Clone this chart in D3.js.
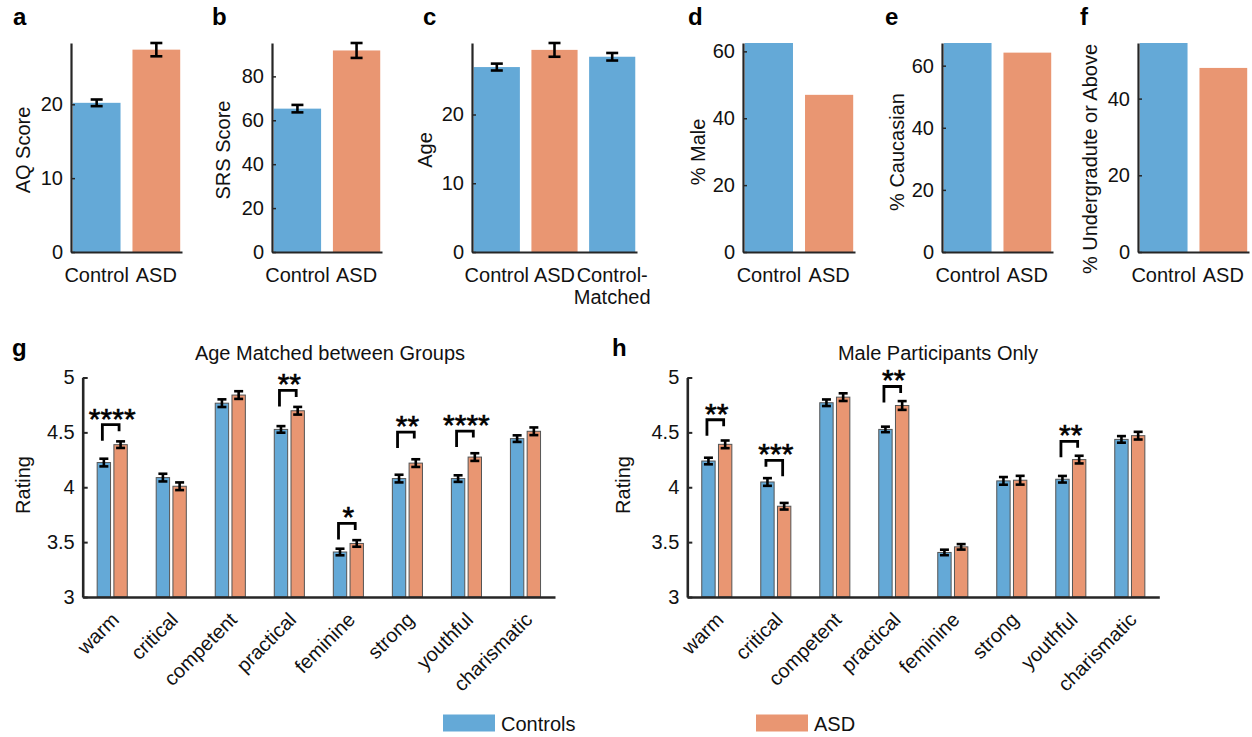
<!DOCTYPE html>
<html>
<head>
<meta charset="utf-8">
<script src="https://cdn.jsdelivr.net/npm/d3@7"></script>
<style>
  body { margin: 0; background: #fff; }
  svg { display: block; font-family: "Liberation Sans", Arial, Helvetica, sans-serif; }
</style>
</head>
<body>
<svg id="fig" width="1252" height="737"></svg>
<script>
// ---- participant summaries (panels a–f) ----
const groupCats = ["Control", "ASD"];
const ageCats = ["Control", "ASD", "Control-Matched"];
const aqMean = [20.2, 27.4];
const aqErr = [0.45, 0.9];
const srsMean = [65.3, 91.8];
const srsErr = [1.7, 3.4];
const ageMean = [26.9, 29.4, 28.4];
const ageErr = [0.5, 1.0, 0.55];
const malePct = [62.5, 47.0];
const caucasianPct = [67.3, 64.2];
const undergradPct = [54.5, 48.0];
const aqTicks = [0, 10, 20];
const srsTicks = [0, 20, 40, 60, 80];
const ageTicks = [0, 10, 20];
const maleTicks = [0, 20, 40, 60];
const caucasianTicks = [0, 20, 40, 60];
const undergradTicks = [0, 20, 40];

// ---- trait ratings (panels g, h) ----
const traits = ["warm", "critical", "competent", "practical", "feminine", "strong", "youthful", "charismatic"];
const ratingTicks = [3, 3.5, 4, 4.5, 5];
const seriesNames = ["Controls", "ASD"];

const ageMatchedControl    = [4.225, 4.088, 4.766, 4.527, 3.410, 4.079, 4.079, 4.443];
const ageMatchedControlErr = [0.035, 0.035, 0.035, 0.030, 0.030, 0.035, 0.030, 0.030];
const ageMatchedASD        = [4.388, 4.009, 4.840, 4.697, 3.488, 4.220, 4.275, 4.510];
const ageMatchedASDErr     = [0.030, 0.035, 0.035, 0.035, 0.030, 0.035, 0.035, 0.035];
const ageMatchedSigTraits  = ["warm", "practical", "feminine", "strong", "youthful"];
const ageMatchedSigStars   = ["****", "**", "*", "**", "****"];
const ageMatchedSigLevel   = [4.57, 4.882, 3.67, 4.503, 4.512];

const maleControl    = [4.239, 4.048, 4.770, 4.527, 3.406, 4.058, 4.073, 4.436];
const maleControlErr = [0.030, 0.035, 0.030, 0.025, 0.025, 0.035, 0.030, 0.030];
const maleASD        = [4.391, 3.827, 4.821, 4.745, 3.457, 4.064, 4.252, 4.470];
const maleASDErr     = [0.035, 0.030, 0.035, 0.040, 0.025, 0.040, 0.035, 0.035];
const maleSigTraits  = ["warm", "critical", "practical", "youthful"];
const maleSigStars   = ["**", "***", "**", "**"];
const maleSigLevel   = [4.615, 4.245, 4.918, 4.418];

// ---- styling ----
const BLUE = "#64a9d7";
const ORANGE = "#e99672";
const AXIS = "#262626";
const FONT = 20;

const svg = d3.select("#fig");

function panelLetter(txt, x, y) {
  svg.append("text").attr("x", x).attr("y", y)
    .attr("font-size", 24).attr("font-weight", "bold").attr("fill", "#000")
    .text(txt);
}

// ---- top row: simple group bars ----
const TOP_Y = [252, 43];

function summaryPanel(p) {
  const g = svg.append("g");
  const top = d3.max(p.values, (v, i) => v + (p.errs ? p.errs[i] : 0));
  const y = d3.scaleLinear().domain([0, top]).range(TOP_Y);
  const x = d3.scaleBand().domain(p.cats).range([p.x0, p.x1])
    .paddingInner(0.2).paddingOuter(0.03);
  const colors = p.cats.map(c => c === "ASD" ? ORANGE : BLUE);

  g.selectAll("rect.bar").data(p.values).join("rect")
    .attr("class", "bar")
    .attr("x", (d, i) => x(p.cats[i]))
    .attr("width", x.bandwidth())
    .attr("y", d => y(d))
    .attr("height", d => y(0) - y(d))
    .attr("fill", (d, i) => colors[i]);

  if (p.errs) {
    const eb = g.selectAll("g.err").data(p.values).join("g").attr("class", "err")
      .attr("stroke", "#000").attr("stroke-width", 2.6);
    const cx = i => x(p.cats[i]) + x.bandwidth() / 2;
    const cap = 6;
    eb.append("line").attr("x1", (d, i) => cx(i)).attr("x2", (d, i) => cx(i))
      .attr("y1", (d, i) => y(d - p.errs[i])).attr("y2", (d, i) => y(d + p.errs[i]));
    eb.append("line").attr("x1", (d, i) => cx(i) - cap).attr("x2", (d, i) => cx(i) + cap)
      .attr("y1", (d, i) => y(d - p.errs[i])).attr("y2", (d, i) => y(d - p.errs[i]));
    eb.append("line").attr("x1", (d, i) => cx(i) - cap).attr("x2", (d, i) => cx(i) + cap)
      .attr("y1", (d, i) => y(d + p.errs[i])).attr("y2", (d, i) => y(d + p.errs[i]));
  }

  // axes
  const yAxis = g.append("g").attr("transform", `translate(${p.x0},0)`)
    .call(d3.axisLeft(y).tickValues(p.ticks).tickSizeInner(-4).tickSizeOuter(0).tickPadding(8));
  yAxis.select(".domain").attr("stroke", AXIS).attr("stroke-width", 2.2);
  yAxis.selectAll(".tick line").attr("stroke", AXIS).attr("stroke-width", 1.5);
  yAxis.selectAll(".tick text").attr("font-size", FONT).attr("fill", "#111").attr("font-family", null);

  const xAxis = g.append("g").attr("transform", `translate(0,${y(0)})`)
    .call(d3.axisBottom(x).tickSize(0).tickPadding(16));
  xAxis.select(".domain").attr("stroke", AXIS).attr("stroke-width", 2);
  xAxis.selectAll(".tick text").attr("font-size", FONT).attr("fill", "#111").attr("font-family", null)
    .each(function (d) {
      const parts = d.split("-");
      if (parts.length > 1) {
        const t = d3.select(this).text(null);
        t.append("tspan").attr("x", 0).attr("dy", "0.71em").text(parts[0] + "-");
        t.append("tspan").attr("x", 0).attr("dy", "1.1em").text(parts[1]);
        t.attr("dy", null);
      }
    });

  svg.append("text")
    .attr("transform", `translate(${p.labelX},${p.labelY}) rotate(-90)`)
    .attr("text-anchor", "middle").attr("dy", "0.35em")
    .attr("font-size", FONT).attr("fill", "#111")
    .text(p.ylabel);

  panelLetter(p.letter, p.letterX, 25);
}

summaryPanel({ letter: "a", letterX: 13, x0: 71, x1: 182, labelX: 23, labelY: 150,
  ylabel: "AQ Score", cats: groupCats, values: aqMean, errs: aqErr, ticks: aqTicks });
summaryPanel({ letter: "b", letterX: 212, x0: 272, x1: 382, labelX: 223, labelY: 150,
  ylabel: "SRS Score", cats: groupCats, values: srsMean, errs: srsErr, ticks: srsTicks });
summaryPanel({ letter: "c", letterX: 423, x0: 472, x1: 637, labelX: 425, labelY: 150,
  ylabel: "Age", cats: ageCats, values: ageMean, errs: ageErr, ticks: ageTicks });
summaryPanel({ letter: "d", letterX: 688, x0: 743, x1: 855, labelX: 698, labelY: 152,
  ylabel: "% Male", cats: groupCats, values: malePct, errs: null, ticks: maleTicks });
summaryPanel({ letter: "e", letterX: 885, x0: 942, x1: 1053, labelX: 897, labelY: 152,
  ylabel: "% Caucasian", cats: groupCats, values: caucasianPct, errs: null, ticks: caucasianTicks });
summaryPanel({ letter: "f", letterX: 1080, x0: 1138, x1: 1249, labelX: 1090, labelY: 159,
  ylabel: "% Undergradute or Above", cats: groupCats, values: undergradPct, errs: null, ticks: undergradTicks });

// ---- bottom row: paired trait ratings ----
const BOT_Y = [597, 377.5];

function ratingPanel(p) {
  const g = svg.append("g");
  const y = d3.scaleLinear().domain([3, 5]).range(BOT_Y);
  const x = d3.scaleBand().domain(traits).range([p.x0, p.x1]).padding(0);
  const pairW = x.bandwidth() * 0.51;
  const xi = d3.scaleBand().domain(seriesNames).range([-pairW / 2, pairW / 2]).paddingInner(0.2);
  const series = [
    { name: seriesNames[0], vals: p.control, errs: p.controlErr, color: BLUE },
    { name: seriesNames[1], vals: p.asd, errs: p.asdErr, color: ORANGE }
  ];
  const center = t => x(t) + x.bandwidth() / 2;

  series.forEach(s => {
    const gs = g.append("g");
    gs.selectAll("rect").data(s.vals).join("rect")
      .attr("x", (d, i) => center(traits[i]) + xi(s.name))
      .attr("width", xi.bandwidth())
      .attr("y", d => y(d))
      .attr("height", d => y(3) - y(d))
      .attr("fill", s.color)
      .attr("stroke", "#555").attr("stroke-width", 1);
  });

  series.forEach(s => {
    const gs = g.append("g").attr("stroke", "#000").attr("stroke-width", 2.6);
    const bx = i => center(traits[i]) + xi(s.name) + xi.bandwidth() / 2;
    const cap = 4.5;
    s.vals.forEach((v, i) => {
      const lo = y(v - s.errs[i]), hi = y(v + s.errs[i]);
      gs.append("line").attr("x1", bx(i)).attr("x2", bx(i)).attr("y1", lo).attr("y2", hi);
      gs.append("line").attr("x1", bx(i) - cap).attr("x2", bx(i) + cap).attr("y1", lo).attr("y2", lo);
      gs.append("line").attr("x1", bx(i) - cap).attr("x2", bx(i) + cap).attr("y1", hi).attr("y2", hi);
    });
  });

  // significance brackets
  const sg = g.append("g");
  p.sigTraits.forEach((t, k) => {
    const i = traits.indexOf(t);
    const xl = center(t) + xi(seriesNames[0]) + xi.bandwidth() / 2 - 1.5;
    const xr = center(t) + xi(seriesNames[1]) + xi.bandwidth() / 2 - 1.5;
    const yt = y(p.sigLevel[k]);
    const leftLower = p.control[i] < p.asd[i];
    const yl = yt + (leftLower ? 16 : 6.5);
    const yr = yt + (leftLower ? 6.5 : 16);
    sg.append("path")
      .attr("d", `M${xl},${yl}V${yt}H${xr}V${yr}`)
      .attr("fill", "none").attr("stroke", "#000").attr("stroke-width", 2.8);
    sg.append("text").attr("x", center(t)).attr("y", yt + 4)
      .attr("text-anchor", "middle").attr("font-size", 30).attr("fill", "#000")
      .attr("stroke", "#000").attr("stroke-width", 0.6)
      .text(p.sigStars[k]);
  });

  const yAxis = g.append("g").attr("transform", `translate(${p.x0},0)`)
    .call(d3.axisLeft(y).tickValues(ratingTicks).tickFormat(d3.format("")).tickSizeInner(-5).tickSizeOuter(0).tickPadding(8));
  yAxis.select(".domain").attr("stroke", AXIS).attr("stroke-width", 2.6);
  yAxis.selectAll(".tick line").attr("stroke", AXIS).attr("stroke-width", 2);
  yAxis.selectAll(".tick text").attr("font-size", FONT).attr("fill", "#111").attr("font-family", null);

  const xAxis = g.append("g").attr("transform", `translate(0,${y(3)})`)
    .call(d3.axisBottom(x).tickSize(0));
  xAxis.select(".domain").attr("stroke", AXIS).attr("stroke-width", 2.6);
  xAxis.selectAll(".tick text")
    .attr("font-size", FONT).attr("fill", "#111").attr("font-family", null)
    .attr("y", null).attr("dy", null)
    .attr("text-anchor", "end")
    .attr("transform", "translate(8,24) rotate(-45)");

  svg.append("text").attr("x", p.titleX).attr("y", 360)
    .attr("text-anchor", "middle").attr("font-size", FONT).attr("fill", "#111")
    .text(p.title);

  svg.append("text")
    .attr("transform", `translate(${p.labelX},485) rotate(-90)`)
    .attr("text-anchor", "middle").attr("dy", "0.35em")
    .attr("font-size", FONT).attr("fill", "#111")
    .text("Rating");

  panelLetter(p.letter, p.letterX, 356);
}

ratingPanel({ letter: "g", letterX: 12, x0: 82.7, x1: 555, labelX: 23, titleX: 330,
  title: "Age Matched between Groups",
  control: ageMatchedControl, controlErr: ageMatchedControlErr,
  asd: ageMatchedASD, asdErr: ageMatchedASDErr,
  sigTraits: ageMatchedSigTraits, sigStars: ageMatchedSigStars, sigLevel: ageMatchedSigLevel });

ratingPanel({ letter: "h", letterX: 612, x0: 687.3, x1: 1159.3, labelX: 623, titleX: 938,
  title: "Male Participants Only",
  control: maleControl, controlErr: maleControlErr,
  asd: maleASD, asdErr: maleASDErr,
  sigTraits: maleSigTraits, sigStars: maleSigStars, sigLevel: maleSigLevel });

// ---- legend ----
const legendX = [443, 756];
const legend = svg.append("g");
seriesNames.forEach((name, i) => {
  legend.append("rect").attr("x", legendX[i]).attr("y", 714.5)
    .attr("width", 52).attr("height", 17)
    .attr("fill", i === 0 ? BLUE : ORANGE);
  legend.append("text").attr("x", legendX[i] + 58).attr("y", 731)
    .attr("font-size", FONT).attr("fill", "#111").text(name);
});
</script>
</body>
</html>
